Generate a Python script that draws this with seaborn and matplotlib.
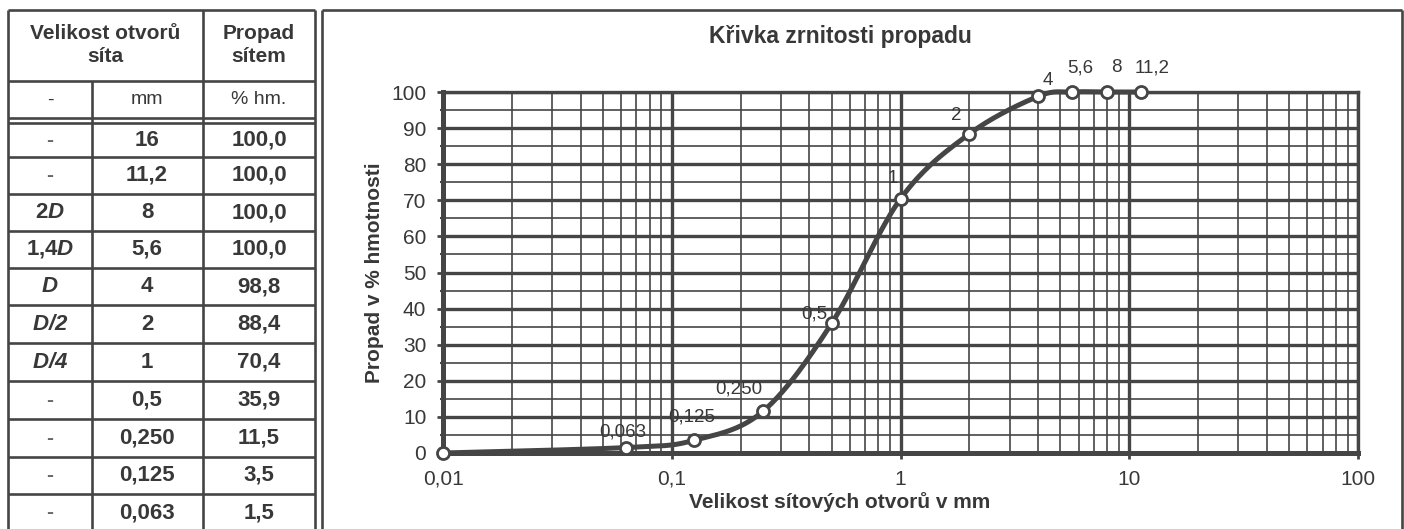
import numpy as np
import pandas as pd
import seaborn as sns
import matplotlib.pyplot as plt
from matplotlib.ticker import FixedLocator, FixedFormatter, MultipleLocator, LogLocator, NullFormatter

# sieve table / grading curve data
SIEVE_CLASS = ["-", "-", "2D", "1,4D", "D", "D/2", "D/4", "-", "-", "-", "-"]
SIEVE_LABEL = ["16", "11,2", "8", "5,6", "4", "2", "1", "0,5", "0,250", "0,125", "0,063"]
SIEVE_MM = [16, 11.2, 8, 5.6, 4, 2, 1, 0.5, 0.25, 0.125, 0.063]
PASSING = [100.0, 100.0, 100.0, 100.0, 98.8, 88.4, 70.4, 35.9, 11.5, 3.5, 1.5]
PAN_MM = 0.01
PAN_PASSING = 0.0

X_TICKS = [0.01, 0.1, 1, 10, 100]
X_TICK_LABELS = ["0,01", "0,1", "1", "10", "100"]
Y_TICKS = list(range(0, 101, 10))

LINE = "#454545"
TEXT = "#383838"

sns.set_style("white")
plt.rcParams['font.family'] = ['Liberation Sans', 'DejaVu Sans']
plt.rcParams['mathtext.fontset'] = 'custom'
plt.rcParams['mathtext.rm'] = 'Liberation Sans'
plt.rcParams['mathtext.bf'] = 'Liberation Sans:bold'
plt.rcParams['mathtext.bfit'] = 'Liberation Sans:italic:bold'


def smooth_curve(xs, ys, n=40):
    # excel-like smoothed line, done in screen-ish units (log x)
    p = np.column_stack([np.log10(xs) * 228, np.asarray(ys) * 3.6])
    pe = np.vstack([p[0], p, p[-1]])
    t = np.linspace(0, 1, n)[:, None]
    parts = []
    for i in range(len(p) - 1):
        p0, p1, p2, p3 = pe[i], pe[i + 1], pe[i + 2], pe[i + 3]
        c1 = p1 + (p2 - p0) / 6
        c2 = p2 - (p3 - p1) / 6
        seg = (1 - t) ** 3 * p1 + 3 * (1 - t) ** 2 * t * c1 + 3 * (1 - t) * t ** 2 * c2 + t ** 3 * p2
        parts.append(seg if i == 0 else seg[1:])
    seg = np.vstack(parts)
    return 10 ** (seg[:, 0] / 228), seg[:, 1] / 3.6


def class_text(s):
    if s == "-":
        return s
    pre, post = s.split("D", 1)
    out = "$"
    if pre:
        out += r"\mathbf{%s}" % pre.replace(",", "{,}")
    out += r"\mathbfit{D%s}" % post
    return out + "$"


def draw_table(bg):
    rows = [10, 81, 118, 123, 157, 194, 231, 268, 305, 343, 381, 419, 457, 494, 531]
    bg.hlines(rows, 8, 315, color=LINE, lw=1.9)
    bg.vlines([8, 203, 315], 10, 531, color=LINE, lw=1.9)
    bg.vlines(92, 81, 531, color=LINE, lw=1.9)
    # chart frame
    bg.vlines([322, 1402], 10, 535, color=LINE, lw=1.9)
    bg.hlines(10, 322, 1402, color=LINE, lw=1.9)

    bg.text(105, 45, "Velikost otvorů\nsíta", ha='center', va='center', fontsize=15,
            fontweight='bold', color=TEXT, linespacing=1.25)
    bg.text(259, 45, "Propad\nsítem", ha='center', va='center', fontsize=15,
            fontweight='bold', color=TEXT, linespacing=1.25)
    for x, s in [(50, "-"), (147, "mm"), (259, "% hm.")]:
        bg.text(x, 100, s, ha='center', va='center', fontsize=14, color=TEXT)

    tops = rows[3:]
    for i in range(len(SIEVE_LABEL)):
        yc = (tops[i] + tops[i + 1]) / 2
        cls = SIEVE_CLASS[i]
        if cls == "-":
            bg.text(50, yc, "-", ha='center', va='center', fontsize=15,
                    fontweight='bold', color="#666666")
        else:
            bg.text(50, yc, class_text(cls), ha='center', va='center', fontsize=16, color=TEXT)
        bg.text(147, yc, SIEVE_LABEL[i], ha='center', va='center', fontsize=16,
                fontweight='bold', color=TEXT)
        bg.text(259, yc, f"{PASSING[i]:.1f}".replace(".", ","), ha='center', va='center',
                fontsize=16, fontweight='bold', color=TEXT)


def main():
    fig = plt.figure(figsize=(14.04, 5.29), dpi=100)
    fig.patch.set_facecolor('white')

    bg = fig.add_axes([0, 0, 1, 1])
    bg.set_xlim(0, 1404)
    bg.set_ylim(529, 0)
    bg.axis('off')
    draw_table(bg)

    ax = fig.add_axes([443 / 1404, 76 / 529, 915 / 1404, 361 / 529])
    ax.set_xscale('log')

    data = pd.DataFrame({"mm": SIEVE_MM[1:] + [PAN_MM],
                         "passing": PASSING[1:] + [PAN_PASSING],
                         "label": SIEVE_LABEL[1:] + [""]})
    data = data.sort_values("mm")

    cx, cy = smooth_curve(data["mm"].values, data["passing"].values)
    sns.lineplot(x=cx, y=cy, sort=False, estimator=None, color=LINE, lw=3.6,
                 ax=ax, zorder=3, clip_on=False)
    sns.scatterplot(data=data, x="mm", y="passing", s=75, color='white', edgecolor=LINE,
                    linewidth=2, zorder=4, ax=ax, clip_on=False)

    # label offsets in pixels (dx right, dy up)
    offsets = {"11,2": (12, 24), "8": (9, 24), "5,6": (9, 24), "4": (10, 16),
               "2": (-13, 18), "1": (-8, 20), "0,5": (-17, 9), "0,250": (-24, 22),
               "0,125": (-2, 23), "0,063": (-3, 16)}
    for _, r in data.iterrows():
        if not r["label"]:
            continue
        dx, dy = offsets[r["label"]]
        ax.annotate(r["label"], (r["mm"], r["passing"]), xytext=(dx, dy),
                    textcoords='offset pixels', ha='center', va='center',
                    fontsize=13.5, color=TEXT, annotation_clip=False, zorder=5)

    ax.set_xlim(0.01, 100)
    ax.set_ylim(0, 100)
    ax.xaxis.set_major_locator(FixedLocator(X_TICKS))
    ax.xaxis.set_major_formatter(FixedFormatter(X_TICK_LABELS))
    ax.xaxis.set_minor_locator(LogLocator(base=10, subs=np.arange(2, 10), numticks=20))
    ax.xaxis.set_minor_formatter(NullFormatter())
    ax.set_yticks(Y_TICKS)
    ax.yaxis.set_minor_locator(MultipleLocator(5))

    ax.set_axisbelow(True)
    ax.grid(True, which='major', color=LINE, lw=2.4)
    ax.grid(True, which='minor', color=LINE, lw=1.2)
    for side in ['top', 'right', 'bottom', 'left']:
        ax.spines[side].set_visible(True)
        ax.spines[side].set_color(LINE)
        ax.spines[side].set_linewidth(2.4)
    ax.spines['left'].set_linewidth(3.6)
    ax.spines['bottom'].set_linewidth(3.6)

    ax.tick_params(which='both', direction='out', bottom=True, left=True,
                   color=LINE, labelcolor=TEXT, labelsize=15, pad=8)
    ax.tick_params(which='major', length=4, width=2)
    ax.tick_params(which='minor', length=2.5, width=1.5)

    ax.set_xlabel("Velikost sítových otvorů v mm", fontsize=15, fontweight='bold', color=TEXT)
    ax.xaxis.set_label_coords((840 - 443) / 915, (453 - 502) / 361)
    ax.xaxis.label.set_verticalalignment('center')
    ax.set_ylabel("Propad v % hmotnosti", fontsize=15, fontweight='bold', color=TEXT)
    ax.yaxis.set_label_coords((374 - 443) / 915, 0.5)
    ax.yaxis.label.set_verticalalignment('center')
    ax.set_title("Křivka zrnitosti propadu", fontsize=16.5, fontweight='bold', color=TEXT,
                 x=(840 - 443) / 915, y=(453 - 45) / 361, va='center')

    fig.savefig("out.png", dpi=100)


if __name__ == '__main__':
    main()
